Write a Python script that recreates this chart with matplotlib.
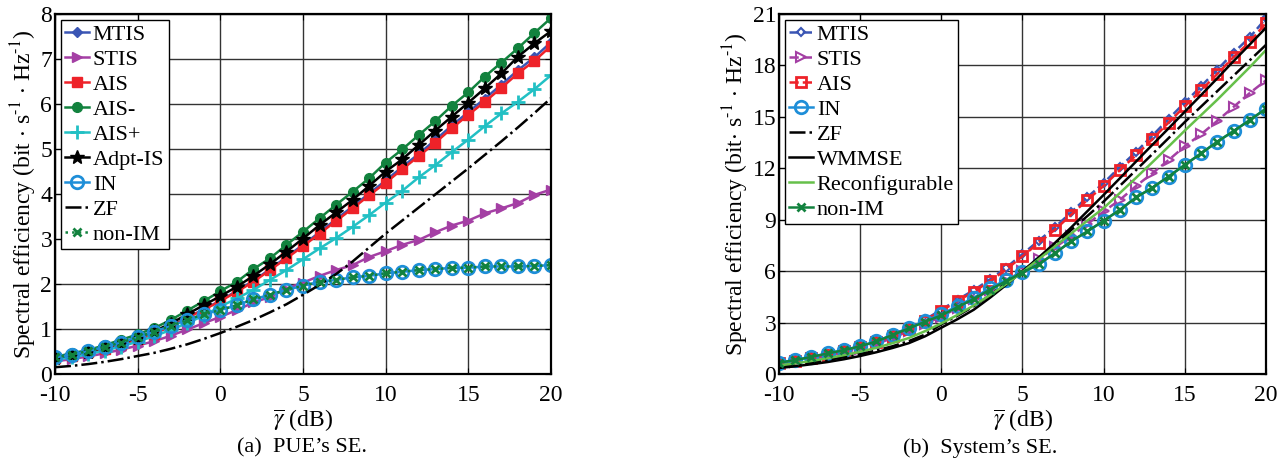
import matplotlib
matplotlib.use('Agg')
import matplotlib.pyplot as plt
import numpy as np

plt.rcParams['font.family'] = ['Liberation Serif', 'DejaVu Serif']
plt.rcParams['mathtext.fontset'] = 'stix'
plt.rcParams['axes.unicode_minus'] = False

# SNR axis (dB), one point per dB
snr = list(range(-10, 21))

# ---- (a) PUE's SE ----
pue_mtis = [0.35, 0.41, 0.48, 0.56, 0.66, 0.77, 0.90, 1.06, 1.25, 1.44, 1.63, 1.85, 2.07, 2.33, 2.60,
            2.87, 3.15, 3.44, 3.72, 4.01, 4.30, 4.60, 4.89, 5.20, 5.52, 5.82, 6.12, 6.43, 6.75, 7.04, 7.37]
pue_stis = [0.28, 0.33, 0.39, 0.46, 0.54, 0.63, 0.73, 0.85, 0.99, 1.13, 1.27, 1.42, 1.59, 1.71, 1.90,
            2.03, 2.18, 2.31, 2.42, 2.60, 2.73, 2.87, 2.98, 3.15, 3.30, 3.41, 3.57, 3.68, 3.80, 3.98, 4.10]
pue_ais = [0.35, 0.41, 0.48, 0.56, 0.66, 0.77, 0.90, 1.06, 1.25, 1.43, 1.62, 1.83, 2.05, 2.31, 2.57,
           2.84, 3.12, 3.40, 3.68, 3.97, 4.25, 4.55, 4.84, 5.14, 5.46, 5.76, 6.05, 6.36, 6.68, 6.96, 7.29]
pue_ais_minus = [0.38, 0.46, 0.53, 0.64, 0.76, 0.88, 1.02, 1.20, 1.41, 1.62, 1.84, 2.05, 2.33, 2.57, 2.87,
                 3.16, 3.46, 3.76, 4.05, 4.35, 4.70, 4.99, 5.31, 5.62, 5.96, 6.26, 6.61, 6.92, 7.24, 7.58, 7.91]
pue_ais_plus = [0.32, 0.37, 0.44, 0.52, 0.61, 0.72, 0.84, 0.98, 1.13, 1.30, 1.50, 1.68, 1.87, 2.09, 2.31,
                2.55, 2.79, 3.02, 3.27, 3.53, 3.81, 4.07, 4.37, 4.64, 4.93, 5.21, 5.51, 5.79, 6.05, 6.33, 6.64]
pue_adpt = [0.36, 0.43, 0.50, 0.59, 0.69, 0.81, 0.95, 1.12, 1.33, 1.53, 1.73, 1.94, 2.18, 2.44, 2.72,
            3.01, 3.31, 3.59, 3.87, 4.18, 4.50, 4.77, 5.09, 5.41, 5.72, 6.03, 6.35, 6.68, 7.05, 7.35, 7.62]
pue_in = [0.37, 0.43, 0.51, 0.60, 0.70, 0.82, 0.94, 1.07, 1.20, 1.33, 1.42, 1.53, 1.66, 1.76, 1.87,
          1.96, 2.05, 2.09, 2.15, 2.18, 2.24, 2.27, 2.31, 2.33, 2.36, 2.36, 2.39, 2.39, 2.39, 2.40, 2.42]
pue_zf = [0.15, 0.18, 0.22, 0.27, 0.33, 0.40, 0.47, 0.56, 0.66, 0.78, 0.91, 1.05, 1.20, 1.37, 1.55,
          1.76, 1.98, 2.22, 2.50, 2.81, 3.12, 3.41, 3.70, 3.99, 4.28, 4.57, 4.87, 5.17, 5.48, 5.80, 6.13]
pue_nonim = [0.37, 0.43, 0.51, 0.60, 0.70, 0.82, 0.94, 1.07, 1.20, 1.33, 1.42, 1.53, 1.66, 1.76, 1.87,
             1.96, 2.05, 2.09, 2.15, 2.18, 2.24, 2.27, 2.31, 2.33, 2.36, 2.36, 2.39, 2.39, 2.39, 2.40, 2.42]

# ---- (b) System's SE ----
sys_mtis = [0.64, 0.80, 0.97, 1.16, 1.38, 1.63, 1.91, 2.25, 2.68, 3.18, 3.75, 4.34, 4.89, 5.52, 6.21,
            6.99, 7.78, 8.56, 9.44, 10.32, 11.14, 12.08, 12.96, 13.90, 14.88, 15.84, 16.78, 17.75, 18.74, 19.64, 20.75]
sys_stis = [0.55, 0.70, 0.87, 1.05, 1.25, 1.48, 1.75, 2.10, 2.50, 2.92, 3.35, 3.85, 4.35, 4.90, 5.45,
            6.00, 6.70, 7.38, 8.05, 8.75, 9.48, 10.16, 10.97, 11.71, 12.48, 13.29, 13.98, 14.77, 15.58, 16.39, 17.13]
sys_ais = [0.62, 0.78, 0.95, 1.13, 1.35, 1.60, 1.87, 2.20, 2.62, 3.12, 3.68, 4.26, 4.80, 5.42, 6.10,
           6.87, 7.65, 8.42, 9.29, 10.16, 10.97, 11.90, 12.77, 13.70, 14.67, 15.62, 16.55, 17.50, 18.49, 19.37, 20.48]
sys_in = [0.66, 0.81, 1.00, 1.20, 1.39, 1.62, 1.90, 2.30, 2.70, 3.10, 3.48, 3.97, 4.45, 5.00, 5.50,
          5.94, 6.40, 7.05, 7.74, 8.32, 8.94, 9.58, 10.30, 10.87, 11.52, 12.20, 12.87, 13.55, 14.17, 14.81, 15.48]
sys_zf = [0.45, 0.56, 0.68, 0.82, 0.98, 1.16, 1.37, 1.62, 1.92, 2.30, 2.90, 3.40, 3.95, 4.60, 5.30,
          5.95, 6.75, 7.55, 8.40, 9.22, 10.06, 10.98, 11.90, 12.83, 13.76, 14.70, 15.60, 16.50, 17.40, 18.30, 19.20]
sys_wmmse = [0.35, 0.45, 0.57, 0.70, 0.86, 1.05, 1.27, 1.52, 1.80, 2.20, 2.70, 3.20, 3.75, 4.45, 5.20,
             6.00, 6.80, 7.65, 8.55, 9.50, 10.45, 11.42, 12.40, 13.37, 14.33, 15.30, 16.27, 17.25, 18.25, 19.22, 20.20]
sys_reconf = [0.50, 0.62, 0.76, 0.92, 1.10, 1.30, 1.53, 1.80, 2.10, 2.50, 2.95, 3.45, 4.00, 4.60, 5.25,
              5.95, 6.70, 7.45, 8.20, 8.95, 9.68, 10.56, 11.45, 12.35, 13.27, 14.20, 15.10, 16.00, 16.95, 17.90, 18.90]
sys_nonim = [0.66, 0.81, 1.00, 1.20, 1.39, 1.62, 1.90, 2.28, 2.66, 3.05, 3.42, 3.90, 4.38, 4.92, 5.42,
             5.92, 6.40, 7.05, 7.74, 8.32, 8.94, 9.58, 10.30, 10.87, 11.52, 12.20, 12.87, 13.55, 14.17, 14.81, 15.48]

BLUE = '#3a55b4'
PURPLE = '#a43fa4'
RED = '#ee2229'
GREEN = '#12823e'
CYAN = '#22c0c4'
LBLUE = '#1e8ed8'
LGREEN = '#66c04a'

fig = plt.figure(figsize=(12.84, 4.66), dpi=100)
ax1 = fig.add_axes([55 / 1284, 92 / 466, 496 / 1284, 360 / 466])
ax2 = fig.add_axes([779 / 1284, 92 / 466, 487 / 1284, 360 / 466])

lw = 1.8
ax1.plot(snr, pue_mtis, '-', color=BLUE, marker='D', ms=5, lw=lw, label='MTIS')
ax1.plot(snr, pue_stis, '-', color=PURPLE, marker='>', ms=7, lw=lw, label='STIS')
ax1.plot(snr, pue_ais, '-', color=RED, marker='s', ms=6.5, lw=lw, label='AIS')
ax1.plot(snr, pue_ais_minus, '-', color=GREEN, marker='o', ms=7, lw=lw, label='AIS-')
ax1.plot(snr, pue_ais_plus, '-', color=CYAN, marker='+', ms=10, mew=2, lw=lw, label='AIS+')
ax1.plot(snr, pue_adpt, '-', color='black', marker='*', ms=10, lw=lw, label='Adpt-IS')
ax1.plot(snr, pue_in, '-', color=LBLUE, marker='o', ms=9, mfc='none', mew=2, lw=lw, label='IN')
ax1.plot(snr, pue_zf, '-.', color='black', lw=lw, label='ZF')
ax1.plot(snr, pue_nonim, ':', color=GREEN, marker='x', ms=6, mew=2, lw=lw, label='non-IM')

ax2.plot(snr, sys_mtis, '--', color=BLUE, marker='D', ms=4.5, mfc='none', mew=1.5, lw=lw, label='MTIS')
ax2.plot(snr, sys_stis, '--', color=PURPLE, marker='>', ms=7, mfc='none', mew=1.5, lw=lw, label='STIS')
ax2.plot(snr, sys_ais, '--', color=RED, marker='s', ms=6.5, mfc='none', mew=2, lw=lw, label='AIS')
ax2.plot(snr, sys_in, '-', color=LBLUE, marker='o', ms=9, mfc='none', mew=2, lw=lw, label='IN')
ax2.plot(snr, sys_zf, '-.', color='black', lw=lw, label='ZF')
ax2.plot(snr, sys_wmmse, '-', color='black', lw=lw, label='WMMSE')
ax2.plot(snr, sys_reconf, '-', color=LGREEN, lw=lw, label='Reconfigurable')
ax2.plot(snr, sys_nonim, '-', color=GREEN, marker='x', ms=6, mew=2, lw=lw, label='non-IM')

for ax, ymax, ystep in [(ax1, 8, 1), (ax2, 21, 3)]:
    ax.set_xlim(-10, 20)
    ax.set_ylim(0, ymax)
    ax.set_xticks(range(-10, 21, 5))
    ax.set_yticks(np.arange(0, ymax + 1, ystep))
    ax.grid(True, color='#333333', lw=1.0)
    ax.tick_params(direction='in', top=True, right=True, labelsize=17, length=4)
    ax.tick_params(axis='x', pad=8)
    ax.tick_params(axis='y', pad=2)
    for s in ax.spines.values():
        s.set_linewidth(1.6)
    ax.set_xlabel(r'$\overline{\gamma}$ (dB)', fontsize=17, labelpad=1)
    leg = ax.legend(loc='upper left', fontsize=16, handlelength=1.1, handletextpad=0.15,
                    labelspacing=0.2, borderaxespad=0.25, borderpad=0.2, fancybox=False,
                    framealpha=1, edgecolor='black')
    leg.get_frame().set_linewidth(1.0)

ax1.set_ylabel(r'Spectral efficiency (bit $\cdot$ s$^{\text{-1}}$ $\cdot$ Hz$^{\text{-1}}$)', fontsize=17, labelpad=1)
ax2.set_ylabel(r'Spectral efficiency (bit$\cdot$ s$^{\text{-1}}$ $\cdot$ Hz$^{\text{-1}}$)', fontsize=17, labelpad=1)

fig.text(302 / 1284, 1 - 448 / 466, "(a)  PUE\u2019s SE.", ha='center', va='center', fontsize=16)
fig.text(980 / 1284, 1 - 448 / 466, "(b)  System\u2019s SE.", ha='center', va='center', fontsize=16)

fig.savefig('out.png', dpi=100)
